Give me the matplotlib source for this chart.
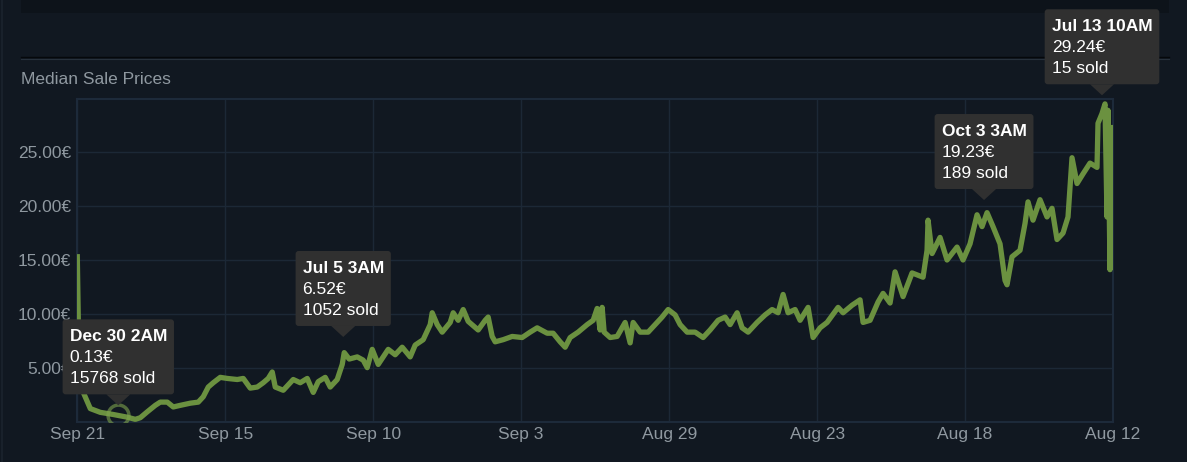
"""
Median sale price history chart
"""

import matplotlib
matplotlib.use("Agg")
import matplotlib.pyplot as plt
import matplotlib.transforms as mtransforms
from matplotlib.patches import FancyBboxPatch, Polygon, Rectangle
from matplotlib.lines import Line2D

plt.rcParams["font.family"] = ["Liberation Sans", "DejaVu Sans"]

# sample index along the time axis (left = tick label "Sep 21")
sample = [
    0, 2, 6, 13, 23, 36, 50, 58, 63, 70, 78, 83, 90, 96, 103, 113, 121, 126,
    131, 136, 143, 150, 160, 166, 173, 180, 186, 191, 195, 198, 206, 216, 223,
    230, 236, 241, 248, 253, 260, 265, 267, 272, 280, 286, 290, 295,
    301, 311, 318, 325, 333, 338, 346, 353, 355, 360, 365, 373, 376, 381, 386,
    391, 401, 408, 411, 415, 418, 426, 435, 445, 453, 460, 470, 476, 483, 488,
    493, 501, 510, 516, 520, 523, 525, 527, 533, 540, 548, 553, 556, 563, 571,
    578, 585, 591, 598, 603, 610, 618, 626, 633, 641, 648, 653, 660, 665, 671,
    680, 688, 695, 701, 706, 711, 718, 723, 731, 736, 743, 750, 761, 766, 775,
    783, 786, 793, 801, 806, 813, 818, 826, 835, 846, 850, 851, 855, 863, 870,
    880, 886, 893, 900, 905, 910, 916, 923, 928, 930, 935, 943, 948, 951, 956,
    963, 970, 975, 980, 986, 991, 995, 1000, 1006, 1013, 1020, 1021, 1025,
    1028, 1030, 1031, 1033, 1035,
]
price = [
    15.3, 3.5, 2.7, 1.2, 0.85, 0.65, 0.4, 0.2, 0.35, 0.9, 1.5, 1.8, 1.8, 1.35,
    1.5, 1.7, 1.8, 2.3, 3.2, 3.6, 4.1, 4.0, 3.9, 4.0, 3.1, 3.2, 3.6, 4.0, 4.6,
    3.2, 2.9, 3.9, 3.6, 4.0, 2.7, 3.7, 4.1, 3.2, 3.9, 5.3, 6.4, 5.8,
    6.0, 5.7, 5.0, 6.7, 5.3, 6.7, 6.2, 6.9, 6.0, 7.1, 7.6, 9.0, 10.1, 9.0, 8.3,
    9.2, 10.1, 9.4, 10.4, 9.3, 8.5, 9.4, 9.7, 7.9, 7.4, 7.6, 7.9, 7.8, 8.3, 8.7,
    8.2, 8.2, 7.4, 6.9, 7.8, 8.3, 9.0, 9.4, 10.5, 8.5, 10.6, 8.3, 7.8, 7.9, 9.2,
    7.3, 9.2, 8.3, 8.3, 9.0, 9.7, 10.4, 9.9, 9.0, 8.3, 8.3, 7.8, 8.5, 9.4, 9.7,
    9.0, 10.1, 8.7, 8.3, 9.2, 9.9, 10.4, 10.1, 11.8, 10.1, 10.4, 9.4, 10.6, 7.8,
    8.7, 9.2, 10.6, 10.1, 10.8, 11.3, 9.2, 9.4, 11.1, 11.9, 11.0, 13.9, 11.6,
    13.8, 13.4, 15.9, 18.7, 15.6, 17.1, 15.0, 16.2, 15.0, 16.5, 19.2, 18.1,
    19.4, 18.1, 16.5, 13.1, 12.7, 15.3, 15.9, 18.4, 20.4, 18.7, 20.6, 19.0,
    19.8, 16.9, 17.5, 19.0, 24.5, 22.1, 23.0, 24.0, 23.6, 27.7, 28.6, 29.5,
    19.0, 28.9, 14.1, 27.3,
]

tick_samples = [0, 148, 296, 444, 592, 740, 888, 1036]
tick_labels = ["Sep 21", "Sep 15", "Sep 10", "Sep 3", "Aug 29", "Aug 23", "Aug 18", "Aug 12"]
y_ticks = [5, 10, 15, 20, 25]

# tooltips: title, price, volume, tip sample, tip price
tooltips = [
    ("Dec 30 2AM", "0.13€", "15768 sold", 41, 1.5),
    ("Jul 5 3AM", "6.52€", "1052 sold", 266, 7.85),
    ("Oct 3 3AM", "19.23€", "189 sold", 907, 20.57),
    ("Jul 13 10AM", "29.24€", "15 sold", 1025, 30.3),
]
marker_point = (41, 0.6)

BG = "#111821"
GRID = "#1c2836"
TEXT = "#8f98a0"
LINE = "#6b9140"
W, H = 1187, 462

fig = plt.figure(figsize=(W / 100, H / 100), dpi=100, facecolor=BG)

# page decoration: darker band on top and separator line
fig.add_artist(Rectangle((21 / W, 1 - 13 / H), 1148 / W, 13 / H,
                         transform=fig.transFigure, facecolor="#0d131a", edgecolor="none"))
fig.add_artist(Line2D([21 / W, 1169 / W], [1 - 57 / H, 1 - 57 / H],
                      transform=fig.transFigure, color="#05080b", linewidth=1.0))
fig.add_artist(Line2D([21 / W, 1169 / W], [1 - 58.5 / H, 1 - 58.5 / H],
                      transform=fig.transFigure, color="#27313c", linewidth=0.8))
fig.add_artist(Line2D([2 / W, 2 / W], [0, 1], transform=fig.transFigure,
                      color="#19212b", linewidth=1.5))

fig.text(21 / W, 1 - 83.5 / H, "Median Sale Prices", color=TEXT, fontsize=12.5,
         va="baseline", ha="left")

ax = fig.add_axes([77.3 / W, (H - 421.5) / H, 1035.7 / W, 323 / H])
ax.set_facecolor(BG)
ax.plot(sample, price, color=LINE, linewidth=3.8, solid_joinstyle="round", zorder=3)
ax.plot(*marker_point, marker="o", markersize=15, markerfacecolor="none",
        markeredgecolor="#7ea34e", markeredgewidth=2.5, alpha=0.6, zorder=4)

ax.set_xlim(tick_samples[0], tick_samples[-1])
ax.set_ylim(0, 30)
ax.set_xticks(tick_samples)
ax.set_xticklabels(tick_labels)
ax.set_yticks(y_ticks)
ax.set_yticklabels([f"{v:.2f}€" for v in y_ticks])
ax.tick_params(colors=TEXT, labelsize=12.5, length=0)
ax.tick_params(axis="y", pad=4.5)
ax.tick_params(axis="x", pad=4)
ax.grid(True, color=GRID, linewidth=1.0)
ax.set_axisbelow(True)
for spine in ax.spines.values():
    spine.set_color("#1d2a3a")
    spine.set_linewidth(1.5)

# tooltips, drawn in pixel space around the data anchor
renderer = fig.canvas.get_renderer()
ident = mtransforms.IdentityTransform()
for title, val, sold, sx, sy in tooltips:
    tx, ty = ax.transData.transform((sx, sy))
    texts = []
    for s, weight in ((title, "bold"), (val, "normal"), (sold, "normal")):
        t = fig.text(0, 0, s, transform=ident, color="white", fontsize=12.5,
                     fontweight=weight, va="baseline", ha="left", zorder=11)
        texts.append(t)
    width = max(t.get_window_extent(renderer).width for t in texts) + 14
    bottom = ty + 11
    top = bottom + 75
    left = tx - width / 2
    box = FancyBboxPatch((left, bottom), width, top - bottom,
                         boxstyle="round,pad=0,rounding_size=3",
                         facecolor="#303030", edgecolor="none", zorder=10)
    box.set_transform(ident)
    fig.add_artist(box)
    tri = Polygon([(tx - 12, bottom), (tx + 12, bottom), (tx, ty)], closed=True,
                  facecolor="#303030", edgecolor="none", zorder=10)
    tri.set_transform(ident)
    fig.add_artist(tri)
    for t, off in zip(texts, (22, 43, 64)):
        t.set_position((left + 7, top - off))

fig.savefig("out.png", dpi=100, facecolor=fig.get_facecolor())
plt.close(fig)
